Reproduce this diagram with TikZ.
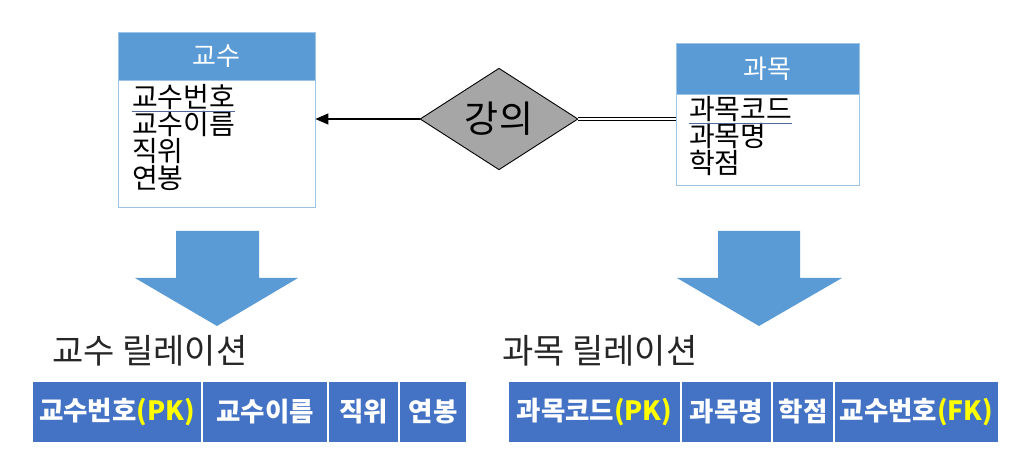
\documentclass[tikz,border=0pt]{standalone}
\usepackage{fontspec}
\setmainfont{Noto Sans CJK KR}
\usetikzlibrary{shapes.geometric,arrows.meta}
\definecolor{hdr}{HTML}{5B9BD5}
\definecolor{tbl}{HTML}{4472C4}
\definecolor{bdr}{HTML}{9DC3E6}
\definecolor{dgray}{HTML}{A6A6A6}
\definecolor{uline}{HTML}{4F6A9A}
\definecolor{pk}{HTML}{FFFF00}
\tikzset{
  hdrbox/.style={rectangle, fill=hdr, draw=bdr, line width=0.8pt, inner sep=0pt, text=white, font=\fontsize{26}{28}\selectfont},
  bodybox/.style={rectangle, fill=white, draw=bdr, line width=0.8pt, inner sep=0pt},
  attr/.style={anchor=base west, inner sep=0pt, font=\fontsize{28}{30}\selectfont, text=black},
  relbox/.style={diamond, fill=dgray, draw=black, line width=0.9pt, inner sep=0pt, minimum width=158pt, minimum height=83pt, font=\fontsize{37}{39}\selectfont},
  title/.style={anchor=west, inner sep=0pt, font=\fontsize{34}{36}\selectfont, text=black!85},
  cell/.style={rectangle, fill=tbl, draw=white, line width=1.2pt, inner sep=0pt, minimum height=62pt, text=white, font=\bfseries\fontsize{26.5}{29}\selectfont},
  bigarrow/.style={fill=hdr},
  ulin/.style={draw=uline, line width=1pt}
}
\begin{document}
\begin{tikzpicture}[x=1pt,y=-1pt]
\useasboundingbox (0,0) rectangle (1015,454);
% Left entity
\node[bodybox, minimum width=197pt, minimum height=127pt] (b1) at (216.5,143.5) {};
\node[hdrbox, minimum width=197pt, minimum height=48pt] (h1) at (216.5,56) {교수};
\node[attr] (a1) at (132,108) {교수번호};
\node[attr] (a2) at (132,135) {교수이름};
\node[attr] (a3) at (132,162) {직위};
\node[attr] (a4) at (132,189) {연봉};
\draw[ulin] ([yshift=-3.5pt]a1.base west) -- ([yshift=-3.5pt]a1.base east);
% Right entity
\node[bodybox, minimum width=183pt, minimum height=91pt] (b2) at (767.5,139.5) {};
\node[hdrbox, minimum width=183pt, minimum height=51pt] (h2) at (767.5,68.5) {과목};
\node[attr] (c1) at (689,120) {과목코드};
\node[attr] (c2) at (689,147) {과목명};
\node[attr] (c3) at (689,174) {학점};
\draw[ulin] ([yshift=-3.5pt]c1.base west) -- ([yshift=-3.5pt]c1.base east);
% Relationship
\node[relbox] (r) at (499,119) {강의};
\draw[line width=1.3pt, -{Triangle[length=13pt,width=11pt]}] (r.west) -- (r.west -| b1.east);
\draw[line width=1pt, double, double distance=2.5pt] (r.east) -- (r.east -| b2.west);
% Big arrows
\fill[bigarrow] (176,231) -- (259,231) -- (259,278) -- (298,278) -- (217,326) -- (135,278) -- (176,278) -- cycle;
\fill[bigarrow] (718,231) -- (800,231) -- (800,278) -- (842,278) -- (759,326) -- (677,278) -- (718,278) -- cycle;
% Titles
\node[title] (t1) at (52,351) {교수 릴레이션};
\node[title] (t2) at (502,351) {과목 릴레이션};
% Left table
\node[cell, minimum width=170pt] (p1) at (117,412) {교수번호\textcolor{pk}{(PK)}};
\node[cell, minimum width=126pt] (p2) at (265,412) {교수이름};
\node[cell, minimum width=71pt] (p3) at (363.5,412) {직위};
\node[cell, minimum width=68pt] (p4) at (433,412) {연봉};
% Right table
\node[cell, minimum width=173pt] (s1) at (594.5,412) {과목코드\textcolor{pk}{(PK)}};
\node[cell, minimum width=91pt] (s2) at (726.5,412) {과목명};
\node[cell, minimum width=62pt] (s3) at (803,412) {학점};
\node[cell, minimum width=165pt] (s4) at (916.5,412) {교수번호\textcolor{pk}{(FK)}};
\end{tikzpicture}
\end{document}
